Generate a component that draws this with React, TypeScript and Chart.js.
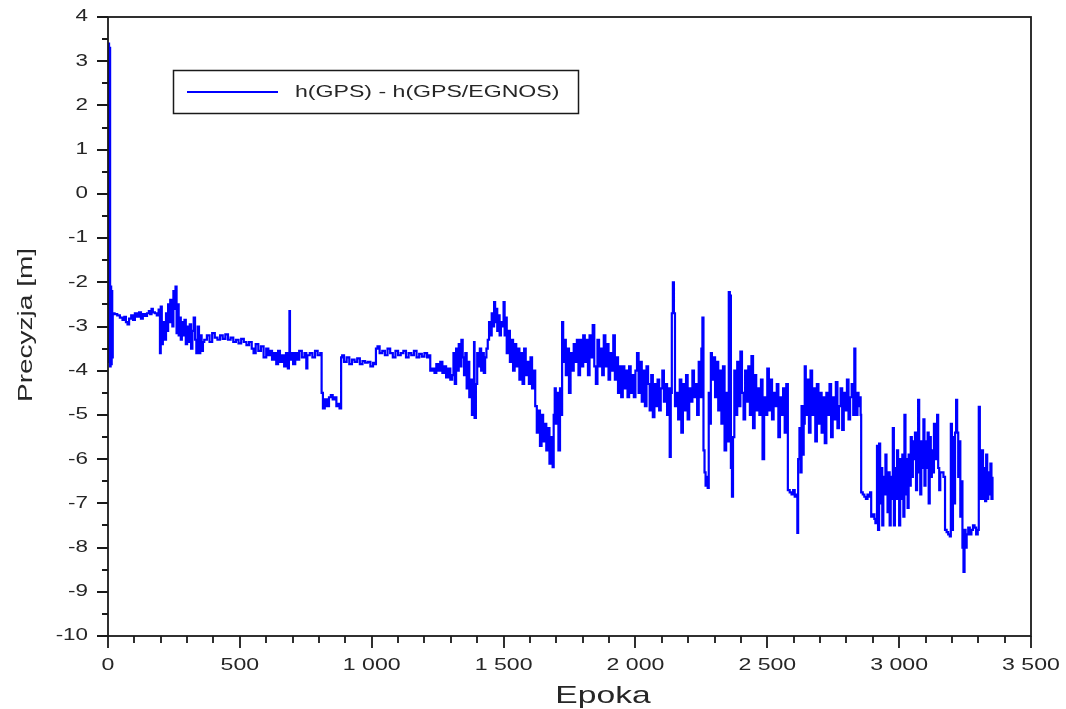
import React, { useEffect, useRef } from 'react';
import { Chart, registerables } from 'chart.js';

Chart.register(...registerables);

const SERIES_LABEL = 'h(GPS) - h(GPS/EGNOS)';
const X_TITLE = 'Epoka';
const Y_TITLE = 'Precyzja [m]';
const X_MIN = 0;
const X_MAX = 3500;
const X_STEP = 500;
const X_MINOR = 100;
const Y_MIN = -10;
const Y_MAX = 4;
const Y_STEP = 1;
const Y_MINOR = 0.5;

// [epoch, h(GPS) - h(GPS/EGNOS) in metres]
const segStart: [number, number][] = [[0,-3.6],[2,3.4],[4,-3.8],[6,3.3],[8,-3.9],[10,-2.1],[12,-3.85],[14,-2.2],[16,-3.7],[18,-2.7]];
const segFlat: [number, number][] = [[25,-2.72],[35,-2.75],[45,-2.8],[55,-2.85],[62,-2.78],[68,-2.9],[74,-2.95],[80,-2.82],[88,-2.75],[95,-2.85],[102,-2.7],[110,-2.78],[118,-2.68],[125,-2.82],[132,-2.72],[140,-2.76],[148,-2.7],[155,-2.65],[160,-2.72],[165,-2.6],[170,-2.68],[178,-2.7],[185,-2.75],[192,-2.62]];
const segBurst1: [number, number][] = [[197,-3.6],[200,-2.55],[204,-3.4],[208,-3.1],[212,-2.9],[216,-3.3],[220,-2.7],[224,-3.1],[228,-2.5],[232,-2.9],[236,-2.4],[240,-2.6],[244,-3.0],[248,-2.2],[252,-2.6],[256,-2.1],[260,-3.15],[264,-2.5],[268,-3.2],[272,-2.8],[276,-3.3],[280,-2.9],[285,-3.2],[290,-2.85],[295,-3.4],[300,-3.0],[305,-3.35],[310,-2.95],[315,-3.5],[320,-3.1],[325,-2.8],[330,-3.3],[335,-3.6],[340,-3.0],[345,-3.6],[350,-3.2],[355,-3.55],[360,-3.35]];
const segDrift: [number, number][] = [[365,-3.3],[375,-3.2],[385,-3.35],[395,-3.15],[405,-3.25],[415,-3.3],[425,-3.2],[435,-3.28],[445,-3.18],[455,-3.3],[465,-3.25],[475,-3.35],[485,-3.3],[495,-3.38],[505,-3.28],[515,-3.35],[525,-3.42],[535,-3.35],[545,-3.5],[552,-3.6],[560,-3.4],[570,-3.55],[580,-3.45],[590,-3.7],[600,-3.5],[608,-3.65],[615,-3.55],[622,-3.75],[630,-3.6],[638,-3.85],[645,-3.55],[652,-3.8],[660,-3.65],[668,-3.9],[675,-3.6],[682,-3.95],[686,-3.7],[688,-2.65],[690,-3.75],[696,-3.6],[702,-3.85],[710,-3.6],[718,-3.75],[725,-3.55],[735,-3.7],[745,-3.6],[752,-3.95],[756,-3.65],[765,-3.6],[775,-3.7],[785,-3.55],[795,-3.65],[805,-3.6]];
const segDip: [number, number][] = [[810,-4.5],[815,-4.85],[822,-4.65],[830,-4.8],[838,-4.6],[845,-4.55],[852,-4.65],[860,-4.6],[866,-4.8],[872,-4.75],[878,-4.85]];
const segPlateau: [number, number][] = [[884,-3.7],[888,-3.65],[895,-3.8],[905,-3.7],[915,-3.85],[925,-3.75],[935,-3.8],[945,-3.72],[955,-3.85],[965,-3.78],[975,-3.82],[985,-3.8],[995,-3.9],[1005,-3.82],[1012,-3.85],[1016,-3.5],[1022,-3.45],[1030,-3.6],[1040,-3.55],[1050,-3.65],[1060,-3.5],[1070,-3.6],[1080,-3.7],[1090,-3.55],[1100,-3.65],[1110,-3.6],[1120,-3.55],[1130,-3.7],[1140,-3.6],[1150,-3.65],[1160,-3.55],[1170,-3.7],[1180,-3.62],[1190,-3.68],[1200,-3.6],[1210,-3.7],[1218,-3.65],[1222,-4.0],[1230,-3.95],[1238,-4.05],[1245,-3.85],[1252,-4.0],[1260,-3.8],[1268,-4.05],[1275,-3.9],[1282,-4.15],[1290,-3.95],[1298,-4.2],[1305,-4.1]];
const segBurst2: [number, number][] = [[1310,-3.6],[1315,-4.3],[1320,-3.5],[1325,-4.0],[1330,-3.4],[1335,-3.9],[1340,-3.3],[1345,-3.7],[1350,-4.1],[1355,-3.6],[1360,-4.4],[1365,-3.8],[1370,-4.6],[1375,-4.2],[1380,-5.0],[1385,-4.5],[1388,-3.35],[1390,-5.07],[1395,-4.3],[1400,-3.6],[1405,-3.9],[1410,-3.5],[1415,-4.0],[1420,-3.6],[1425,-4.05],[1430,-3.7],[1435,-3.5],[1440,-3.3],[1445,-2.9],[1450,-3.2],[1455,-2.7],[1460,-3.0],[1464,-2.45],[1468,-2.9],[1472,-2.6],[1476,-3.1],[1480,-2.75],[1485,-3.2],[1490,-2.9],[1495,-3.0],[1500,-2.45],[1504,-3.2],[1508,-2.8],[1512,-3.6],[1518,-3.1],[1524,-3.8],[1530,-3.3],[1536,-4.0],[1542,-3.4],[1548,-3.9],[1554,-3.5],[1560,-4.2],[1566,-3.6],[1572,-4.3],[1578,-3.5],[1584,-4.1],[1590,-3.8],[1596,-4.3],[1602,-3.7],[1608,-4.4],[1614,-4.0],[1620,-4.8],[1626,-5.4],[1632,-4.9],[1638,-5.7],[1644,-5.0],[1650,-5.6],[1656,-5.2],[1662,-5.8],[1668,-5.3],[1674,-6.1],[1680,-5.5],[1686,-6.18],[1690,-5.0],[1694,-4.4],[1698,-5.2],[1702,-4.5],[1708,-5.8],[1714,-4.4],[1718,-5.0]];
const segHump: [number, number][] = [[1722,-2.9],[1726,-3.8],[1730,-3.3],[1736,-4.1],[1742,-3.5],[1748,-4.5],[1754,-3.6],[1760,-4.0],[1766,-3.4],[1772,-3.8],[1778,-3.3],[1784,-4.1],[1790,-3.3],[1796,-3.9],[1802,-3.2],[1808,-3.8],[1814,-3.3],[1820,-4.1],[1826,-3.2],[1832,-3.7],[1838,-2.97],[1844,-3.9],[1850,-4.3],[1856,-3.3],[1862,-3.9],[1868,-3.5],[1874,-4.1],[1880,-3.2],[1886,-3.9],[1892,-3.4],[1898,-4.2],[1904,-3.6],[1910,-4.0],[1916,-3.2],[1922,-4.2],[1928,-3.7],[1934,-4.5],[1940,-3.9],[1946,-4.6],[1952,-3.9],[1958,-4.4],[1964,-4.0],[1970,-4.6],[1976,-3.9],[1982,-4.5],[1988,-4.1],[1994,-4.6],[2000,-4.0],[2006,-3.6],[2012,-4.5],[2018,-3.8],[2024,-4.7],[2030,-4.0],[2036,-4.8],[2042,-3.9],[2048,-4.3],[2054,-4.9],[2060,-4.1],[2066,-5.05],[2072,-4.3],[2078,-4.8],[2084,-4.2],[2090,-4.9],[2096,-4.4],[2102,-4.0],[2108,-4.7],[2114,-4.3],[2120,-5.0],[2126,-4.4]];
const segSpikes: [number, number][] = [[2130,-5.95],[2134,-4.5],[2138,-2.7],[2142,-2.0],[2146,-2.7],[2150,-4.8],[2156,-4.5],[2162,-5.1],[2168,-4.2],[2174,-5.4],[2180,-4.3],[2186,-4.9],[2192,-4.1],[2198,-5.1],[2204,-4.4],[2210,-4.7],[2216,-4.0],[2222,-4.6],[2228,-4.3],[2234,-5.0],[2240,-3.8],[2246,-4.6],[2250,-3.5],[2254,-2.8],[2258,-5.8],[2262,-6.3],[2266,-6.6],[2270,-6.4],[2274,-6.65],[2278,-4.5],[2282,-5.2],[2286,-3.6],[2290,-4.2],[2296,-3.7],[2302,-4.6],[2308,-3.8],[2314,-4.9],[2320,-4.0],[2326,-5.2],[2332,-3.9],[2338,-5.8],[2344,-4.5],[2350,-5.6],[2354,-2.22],[2358,-2.3],[2362,-6.2],[2366,-6.85],[2370,-5.5]];
const segBand: [number, number][] = [[2375,-4.0],[2380,-5.0],[2386,-3.8],[2392,-4.8],[2398,-3.57],[2404,-4.5],[2410,-5.1],[2416,-4.0],[2422,-4.7],[2428,-3.9],[2434,-5.0],[2440,-3.67],[2446,-5.3],[2452,-4.1],[2458,-4.9],[2464,-4.4],[2470,-5.0],[2476,-4.2],[2482,-6.0],[2488,-4.6],[2494,-5.0],[2500,-3.95],[2506,-4.9],[2512,-4.2],[2518,-5.1],[2524,-4.5],[2530,-4.8],[2536,-4.3],[2542,-5.5],[2548,-4.6],[2554,-5.0],[2560,-4.4],[2566,-5.4],[2572,-4.3]];
const segDrop: [number, number][] = [[2578,-6.7],[2585,-6.75],[2592,-6.8],[2598,-6.7],[2604,-6.85],[2610,-6.8],[2614,-7.67],[2617,-6.0],[2622,-5.3],[2626,-6.3],[2630,-4.8],[2634,-5.9],[2638,-5.2],[2642,-3.9],[2646,-5.0]];
const segLate: [number, number][] = [[2652,-4.2],[2658,-5.4],[2664,-4.0],[2670,-5.0],[2676,-4.4],[2682,-5.6],[2688,-4.3],[2694,-5.2],[2700,-4.5],[2706,-5.4],[2712,-4.6],[2718,-5.64],[2724,-4.5],[2730,-5.0],[2736,-4.3],[2742,-5.5],[2748,-4.6],[2754,-5.1],[2760,-4.26],[2766,-5.3],[2772,-4.8],[2778,-4.4],[2784,-5.34],[2790,-4.5],[2796,-4.9],[2802,-4.2],[2808,-5.1],[2814,-4.6],[2820,-4.3],[2826,-5.0],[2830,-3.5],[2834,-4.6],[2838,-5.0],[2842,-4.5],[2846,-4.8],[2850,-4.6],[2854,-5.0]];
const segLow: [number, number][] = [[2856,-6.75],[2862,-6.8],[2868,-6.85],[2874,-6.9],[2880,-6.8],[2886,-6.85],[2890,-6.75],[2894,-7.3],[2900,-7.25],[2906,-7.35],[2910,-7.45],[2916,-5.7],[2920,-7.6],[2924,-5.65],[2928,-7.0],[2932,-6.2],[2936,-7.5],[2940,-6.4],[2944,-6.8],[2948,-5.9],[2952,-6.6],[2956,-7.2],[2960,-6.3],[2964,-7.5],[2968,-6.4],[2972,-6.9],[2976,-5.3],[2980,-7.5],[2984,-6.2],[2988,-6.9],[2992,-5.8],[2996,-6.5],[3000,-7.5],[3004,-6.0],[3008,-6.9],[3012,-5.9],[3016,-7.3],[3020,-5.0],[3024,-6.8],[3028,-6.0],[3032,-7.1],[3036,-5.9],[3040,-6.6],[3044,-5.5],[3048,-6.4],[3052,-5.6],[3056,-6.0],[3060,-5.4],[3064,-6.7],[3068,-5.8],[3072,-4.66],[3076,-6.3],[3080,-6.8],[3084,-5.6],[3088,-6.2],[3092,-5.1],[3096,-6.6],[3100,-5.6],[3104,-6.2],[3108,-5.4],[3112,-7.0],[3116,-5.5],[3120,-6.4],[3124,-5.8],[3128,-6.3],[3132,-5.2],[3136,-6.0],[3140,-5.7],[3144,-5.0],[3148,-6.2],[3152,-6.7],[3156,-6.3],[3162,-6.3],[3168,-6.4],[3174,-7.6],[3180,-7.65],[3186,-7.7],[3192,-7.75],[3196,-5.2],[3200,-7.6],[3204,-5.5],[3208,-7.0],[3212,-5.4],[3216,-4.66],[3220,-5.4],[3224,-6.4],[3228,-5.6],[3232,-7.3],[3236,-6.5],[3240,-8.0],[3244,-8.55],[3248,-7.6],[3252,-8.0],[3256,-7.7],[3262,-7.55],[3268,-7.7],[3274,-7.6],[3280,-7.5],[3286,-7.55],[3292,-7.7],[3298,-7.6],[3302,-4.82],[3306,-6.0],[3310,-6.9],[3314,-5.8],[3318,-6.9],[3322,-6.2],[3326,-6.95],[3330,-5.9],[3334,-6.9],[3338,-6.3],[3342,-6.8],[3346,-6.1],[3350,-6.9],[3354,-6.4]];

const allSegments = [segStart, segFlat, segBurst1, segDrift, segDip, segPlateau, segBurst2, segHump, segSpikes, segBand, segDrop, segLate, segLow];

const FONT = '"Liberation Sans", Arial, Helvetica, sans-serif';
const STRETCH = 1.4;
const TEXT_COLOR = '#262626';
const AXIS_COLOR = '#1a1a1a';
const LINE_COLOR = '#0000ff';

function formatX(v: number): string {
  if (v >= 1000) {
    const th = Math.floor(v / 1000);
    const rest = String(Math.round(v % 1000)).padStart(3, '0');
    return `${th} ${rest}`;
  }
  return String(v);
}

function formatY(v: number): string {
  return String(Math.round(v));
}

function stretchedText(
  ctx: CanvasRenderingContext2D,
  text: string,
  x: number,
  y: number,
  size: number,
  align: CanvasTextAlign,
  baseline: CanvasTextBaseline,
  rot = 0
) {
  ctx.save();
  ctx.translate(x, y);
  if (rot) ctx.rotate(rot);
  ctx.scale(STRETCH, 1);
  ctx.font = `${size}px ${FONT}`;
  ctx.textAlign = align;
  ctx.textBaseline = baseline;
  ctx.fillStyle = TEXT_COLOR;
  ctx.fillText(text, 0, 0);
  ctx.restore();
}

const framePlugin = {
  id: 'scilabFrame',
  afterDraw(chart: any) {
    const ctx: CanvasRenderingContext2D = chart.ctx;
    const a = chart.chartArea;
    const xs = chart.scales.x;
    const ys = chart.scales.y;
    ctx.save();
    ctx.strokeStyle = AXIS_COLOR;
    ctx.lineWidth = 1.8;
    ctx.strokeRect(a.left, a.top, a.right - a.left, a.bottom - a.top);

    ctx.beginPath();
    for (let v = X_MIN; v <= X_MAX + 1e-6; v += X_MINOR) {
      const px = Math.round(xs.getPixelForValue(v));
      const major = Math.abs(v % X_STEP) < 1e-6;
      ctx.moveTo(px, a.bottom);
      ctx.lineTo(px, a.bottom + (major ? 12 : 7));
    }
    for (let v = Y_MIN; v <= Y_MAX + 1e-6; v += Y_MINOR) {
      const py = Math.round(ys.getPixelForValue(v));
      const major = Math.abs(v - Math.round(v)) < 1e-6;
      ctx.moveTo(a.left, py);
      ctx.lineTo(a.left - (major ? 11 : 6), py);
    }
    ctx.stroke();
    ctx.restore();

    xs.ticks.forEach((t: any) => {
      stretchedText(ctx, formatX(t.value), xs.getPixelForValue(t.value), a.bottom + 29, 16.5, 'center', 'middle');
    });
    ys.ticks.forEach((t: any) => {
      stretchedText(ctx, formatY(t.value), a.left - 20, ys.getPixelForValue(t.value), 16, 'right', 'middle');
    });

    stretchedText(ctx, X_TITLE, 603, 703, 24, 'center', 'alphabetic');
    stretchedText(ctx, Y_TITLE, 26, 325, 20, 'center', 'middle', -Math.PI / 2);

    ctx.save();
    ctx.fillStyle = '#ffffff';
    ctx.fillRect(173, 70, 405, 43);
    ctx.strokeStyle = AXIS_COLOR;
    ctx.lineWidth = 1.5;
    ctx.strokeRect(173.5, 70.5, 405, 43);
    ctx.strokeStyle = LINE_COLOR;
    ctx.lineWidth = 1.8;
    ctx.beginPath();
    ctx.moveTo(187, 92);
    ctx.lineTo(278, 92);
    ctx.stroke();
    ctx.restore();
    const label = chart.data.datasets[0].label as string;
    stretchedText(ctx, label, 295, 92, 16.5, 'left', 'middle');
  },
};

export default function App() {
  const canvasRef = useRef<HTMLCanvasElement | null>(null);

  useEffect(() => {
    const canvas = canvasRef.current;
    if (!canvas) return;
    const points = allSegments.flat().map(([x, y]) => ({ x, y }));
    const chart = new Chart(canvas, {
      type: 'line',
      data: {
        datasets: [
          {
            label: SERIES_LABEL,
            data: points,
            borderColor: LINE_COLOR,
            backgroundColor: LINE_COLOR,
            borderWidth: 2.2,
            pointRadius: 0,
            stepped: true,
            fill: false,
          },
        ],
      },
      options: {
        responsive: false,
        animation: false,
        devicePixelRatio: 1,
        layout: { padding: { top: 17, right: 35, left: 0, bottom: 0 } },
        plugins: { legend: { display: false }, tooltip: { enabled: false } },
        scales: {
          x: {
            type: 'linear',
            min: X_MIN,
            max: X_MAX,
            ticks: { display: false, stepSize: X_STEP },
            grid: { display: false },
            border: { display: false },
            afterFit: (s: any) => {
              s.height = 73;
            },
          },
          y: {
            type: 'linear',
            min: Y_MIN,
            max: Y_MAX,
            ticks: { display: false, stepSize: Y_STEP },
            grid: { display: false },
            border: { display: false },
            afterFit: (s: any) => {
              s.width = 108;
            },
          },
        },
      } as any,
      plugins: [framePlugin],
    });
    return () => chart.destroy();
  }, []);

  return (
    <div style={{ position: 'absolute', left: 0, top: 0, width: 1066, height: 709, background: '#ffffff' }}>
      <canvas ref={canvasRef} width={1066} height={709} style={{ display: 'block' }} />
    </div>
  );
}
